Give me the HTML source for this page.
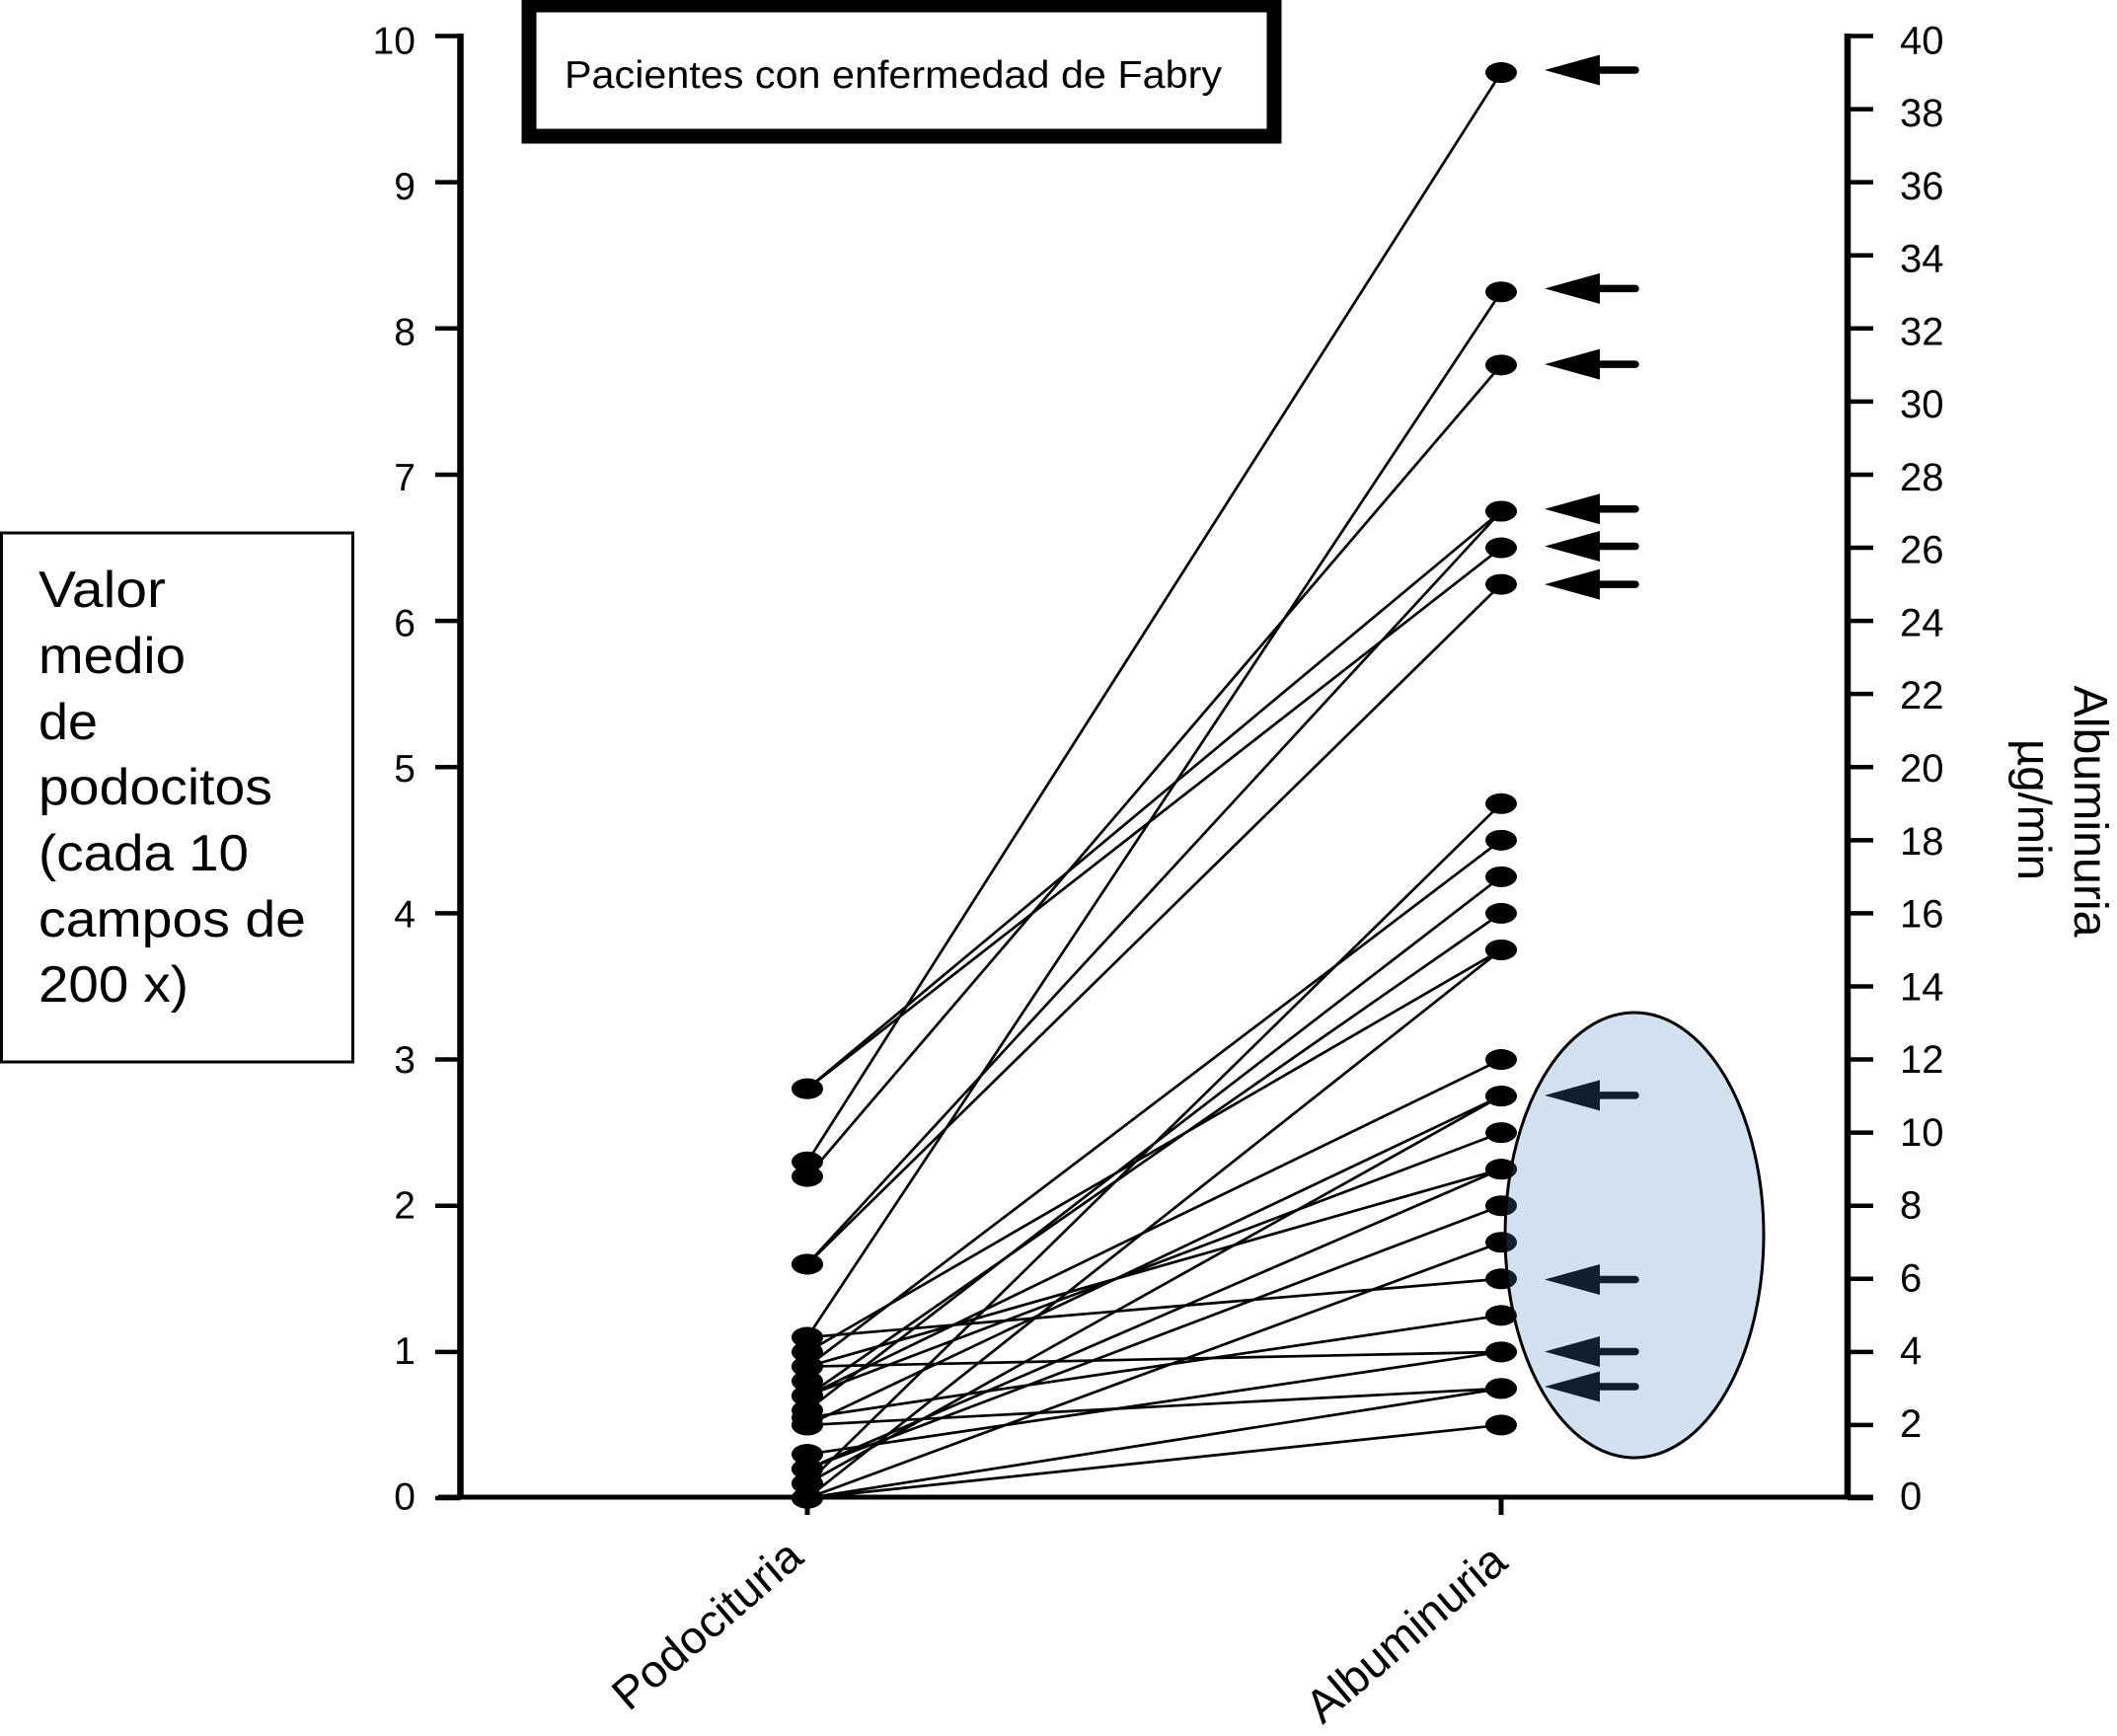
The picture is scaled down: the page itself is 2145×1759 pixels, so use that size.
<!DOCTYPE html>
<html lang="es">
<head>
<meta charset="utf-8">
<title>Pacientes con enfermedad de Fabry</title>
<style>
html,body{margin:0;padding:0;background:#fff;width:2145px;height:1759px;overflow:hidden}
svg{display:block}
text{font-family:"Liberation Sans",Arial,sans-serif;fill:#000}
</style>
</head>
<body>
<svg id="chart" xmlns="http://www.w3.org/2000/svg" width="2145" height="1759" viewBox="0 0 2145 1759">
  <rect x="0" y="0" width="2145" height="1759" fill="#fff"/>
  <g id="axes"></g>
  <g id="lines"></g>
  <g id="dots"></g>
  <g id="arrows"></g>
  <ellipse cx="1656" cy="1251.5" rx="131" ry="225.5" fill="rgb(62,129,192)" fill-opacity="0.24"/>
  <ellipse cx="1656" cy="1251.5" rx="131" ry="225.5" fill="none" stroke="#000" stroke-width="3"/>

  <g>
    <rect x="536" y="5" width="755" height="133" fill="#fff" stroke="#000" stroke-width="15"/>
    <text x="572" y="89" font-size="39" textLength="666" lengthAdjust="spacingAndGlyphs">Pacientes con enfermedad de Fabry</text>
  </g>

  <g>
    <rect x="1.5" y="540" width="356" height="536" fill="#fff" stroke="#000" stroke-width="3"/>
    <text x="39" y="615" font-size="52" textLength="129" lengthAdjust="spacingAndGlyphs">Valor</text>
    <text x="39" y="682" font-size="52" textLength="149" lengthAdjust="spacingAndGlyphs">medio</text>
    <text x="39" y="749" font-size="52" textLength="60" lengthAdjust="spacingAndGlyphs">de</text>
    <text x="39" y="815" font-size="52" textLength="237" lengthAdjust="spacingAndGlyphs">podocitos</text>
    <text x="39" y="882" font-size="52" textLength="213" lengthAdjust="spacingAndGlyphs">(cada 10</text>
    <text x="39" y="949" font-size="52" textLength="271" lengthAdjust="spacingAndGlyphs">campos de</text>
    <text x="39" y="1015" font-size="52" textLength="152" lengthAdjust="spacingAndGlyphs">200 x)</text>
  </g>

  <text transform="translate(637 1735) rotate(-40.6)" font-size="46" textLength="236" lengthAdjust="spacingAndGlyphs">Podocituria</text>
  <text transform="translate(1340 1748) rotate(-40.4)" font-size="47" textLength="249" lengthAdjust="spacingAndGlyphs">Albuminuria</text>
  <text transform="translate(2102 694.5) rotate(90)" font-size="48" textLength="255" lengthAdjust="spacingAndGlyphs">Albuminuria</text>
  <text transform="translate(2045 749) rotate(90)" font-size="47" textLength="143" lengthAdjust="spacingAndGlyphs">µg/min</text>
</svg>

<script>
// Paired readings per patient: podocytes (left axis) and albuminuria in µg/min (right axis)
const podocituria = [2.3, 1.1, 2.2, 2.8, 1.6, 2.8, 1.6, 0.1, 0.9, 0.6, 0.7, 1.0, 0, 0.7, 0.5, 0.1, 0.7, 0.9, 0.2, 0.2, 0, 1.1, 0.55, 0.9, 0.3, 0.5, 0, 0];
const albuminuria = [39, 33, 31, 27, 27, 26, 25, 19, 18, 17, 16, 15, 15, 12, 11, 11, 10, 9, 9, 8, 7, 6, 5, 4, 4, 3, 3, 2];
// A podocyte point visible in the cluster without a clearly traceable line
const extraPodocituria = [0.8];
// Albuminuria values (µg/min) flagged with an arrow
const arrowValues = [39.07, 33.09, 31.02, 27.06, 26.04, 25, 11.02, 5.98, 4.01, 3.05];
const leftTicks = [0, 1, 2, 3, 4, 5, 6, 7, 8, 9, 10];
const rightTicks = [0, 2, 4, 6, 8, 10, 12, 14, 16, 18, 20, 22, 24, 26, 28, 30, 32, 34, 36, 38, 40];

const NS = 'http://www.w3.org/2000/svg';
const X_LEFT_AXIS = 466.5, X_RIGHT_AXIS = 1872, X_PODO = 818, X_ALB = 1521;
const Y_ZERO = 1518, Y_TOP = 36.5, Y_AXIS = 1517;
const yLeft = v => Y_ZERO - v * (Y_ZERO - Y_TOP) / 10;
const yRight = v => Y_ZERO - v * (Y_ZERO - Y_TOP) / 40;

function mk(tag, attrs, parent) {
  const el = document.createElementNS(NS, tag);
  for (const k in attrs) el.setAttribute(k, attrs[k]);
  parent.appendChild(el);
  return el;
}

const axes = document.getElementById('axes');
const linesG = document.getElementById('lines');
const dotsG = document.getElementById('dots');
const arrowsG = document.getElementById('arrows');

// axis lines
const leftAxis = mk('line', {x1: X_LEFT_AXIS, x2: X_LEFT_AXIS, y1: Y_TOP - 2.5, y2: Y_AXIS + 2, stroke: '#000', 'stroke-width': 6.5}, axes);


const rightAxis = mk('line', {x1: X_RIGHT_AXIS, x2: X_RIGHT_AXIS, y1: Y_TOP - 2.5, y2: Y_AXIS + 2, stroke: '#000', 'stroke-width': 6.5}, axes);


const xAxis = mk('line', {x1: 444, x2: 1898, y1: Y_AXIS, y2: Y_AXIS, stroke: '#000', 'stroke-width': 5}, axes);



// x ticks
[X_PODO, X_ALB].forEach(function (x) {
  const t = mk('line', {x1: x, x2: x, y1: Y_AXIS, y2: Y_AXIS + 18, stroke: '#000', 'stroke-width': 5}, axes);
  
  
});

// left ticks
leftTicks.forEach(function (v) {
  const y = yLeft(v);
  const t = mk('line', {x1: 441, x2: X_LEFT_AXIS, y1: y, y2: y, stroke: '#000', 'stroke-width': 4.5}, axes);
  
  
  const label = mk('text', {x: 421, y: y + 11.6 + 0.63 * v, 'font-size': 39, 'text-anchor': 'end'}, axes);
  label.textContent = String(v);
  
  
});

// right ticks
rightTicks.forEach(function (v) {
  const y = yRight(v);
  const t = mk('line', {x1: X_RIGHT_AXIS, x2: 1898, y1: y, y2: y, stroke: '#000', 'stroke-width': 4.5}, axes);
  
  
  const label = mk('text', {x: 1925, y: y + 11.6 + 0.1575 * v, 'font-size': 40}, axes);
  label.textContent = String(v);
  
  
});

// connecting lines
podocituria.forEach(function (p, i) {
  const l = mk('line', {x1: X_PODO, y1: yLeft(p), x2: X_ALB, y2: yRight(albuminuria[i]), stroke: '#000', 'stroke-width': 2.7}, linesG);
  
  
});

// podocyte dots
podocituria.concat(extraPodocituria).forEach(function (p) {
  const d = mk('ellipse', {cx: X_PODO, cy: yLeft(p), rx: 16, ry: 10.5, fill: '#000'}, dotsG);
  
  
});

// albuminuria dots
albuminuria.forEach(function (a) {
  const d = mk('ellipse', {cx: X_ALB, cy: yRight(a), rx: 16, ry: 10.5, fill: '#000'}, dotsG);
  
  
});

// arrows
arrowValues.forEach(function (a) {
  const y = yRight(a);
  const g = mk('g', {}, arrowsG);
  
  
  mk('polygon', {points: '1565,' + y + ' 1621,' + (y - 15.5) + ' 1621,' + (y + 15.5), fill: '#000'}, g);
  mk('line', {x1: 1615, x2: 1657, y1: y, y2: y, stroke: '#000', 'stroke-width': 7.5, 'stroke-linecap': 'round'}, g);
});
</script>
</body>
</html>
